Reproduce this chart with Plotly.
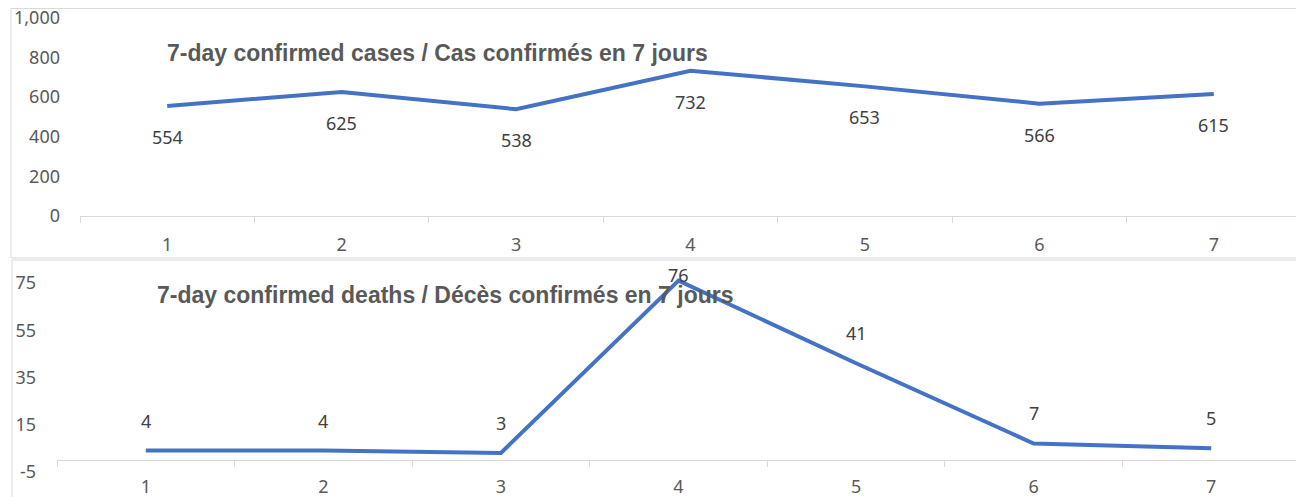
import plotly.graph_objects as go

days = ["1", "2", "3", "4", "5", "6", "7"]
cases = [554, 625, 538, 732, 653, 566, 615]
deaths = [4, 4, 3, 76, 41, 7, 5]
cases_ticks = [0, 200, 400, 600, 800, 1000]
deaths_ticks = [-5, 15, 35, 55, 75]
deaths_tick_text = ["-5", "15", "35", "55", "75"]
title_cases = "7-day confirmed cases / Cas confirmés en 7 jours"
title_deaths = "7-day confirmed deaths / Décès confirmés en 7 jours"

W, H = 1304, 497
OFF = 8  # page body margin
LINE = "#4472C4"
GRID = "#d9d9d9"
TXT = "#595959"
LBL = "#404040"
TICKFONT = dict(family="Noto Sans", size=18, color=TXT)
LBLFONT = dict(family="Noto Sans", size=18, color=LBL)


def px_x(p):
    return (p - OFF) / W


def px_y(p):
    return (H - (p - OFF)) / H


fig = go.Figure()
fig.add_trace(go.Scatter(x=days, y=cases, mode="lines", line=dict(color=LINE, width=4),
                         xaxis="x", yaxis="y", hoverinfo="skip"))
fig.add_trace(go.Scatter(x=days, y=deaths, mode="lines", line=dict(color=LINE, width=4),
                         xaxis="x2", yaxis="y2", hoverinfo="skip"))

top_rng = [0, 1000]
top_y0, top_y1 = 216, 17.5
bot_rng = [-5, 80]
bot_scale = 2.36
bot_zero = 460
bot_y0 = bot_zero - bot_rng[0] * bot_scale
bot_y1 = bot_zero - bot_rng[1] * bot_scale

axis_common = dict(type="category", showgrid=False, showline=True, linecolor=GRID, linewidth=1,
                   ticks="outside", tickson="boundaries", ticklen=6, tickcolor=GRID,
                   tickfont=TICKFONT, ticklabelstandoff=12, range=[-0.5, 6.5], zeroline=False,
                   automargin=False, ticklabeloverflow="allow")

fig.update_layout(
    width=W, height=H, margin=dict(l=0, r=0, t=0, b=0, pad=0), autosize=False,
    paper_bgcolor="white", plot_bgcolor="rgba(0,0,0,0)", showlegend=False,
    xaxis=dict(axis_common, domain=[px_x(80), px_x(1301)], anchor="y"),
    yaxis=dict(domain=[px_y(top_y0), px_y(top_y1)], range=top_rng, tickvals=cases_ticks,
               tickformat=",d", showgrid=False, zeroline=False, showline=False, ticks="",
               tickfont=TICKFONT, ticklabelstandoff=19, anchor="x", automargin=False,
               ticklabeloverflow="allow"),
    xaxis2=dict(axis_common, domain=[px_x(57), px_x(1300)], anchor="free",
                position=px_y(bot_zero), ticklabelstandoff=10),
    yaxis2=dict(domain=[px_y(bot_y0), px_y(bot_y1)], range=bot_rng, tickvals=deaths_ticks,
                ticktext=deaths_tick_text, showgrid=False, zeroline=False, showline=False,
                ticks="", tickfont=TICKFONT, ticklabelstandoff=20, anchor="x2",
                automargin=False, ticklabeloverflow="allow"),
)

fig.add_shape(type="rect", xref="paper", yref="paper", x0=px_x(11), x1=px_x(1298),
              y0=px_y(258), y1=px_y(8.5), line=dict(color=GRID, width=1), layer="below")
fig.add_shape(type="rect", xref="paper", yref="paper", x0=px_x(12), x1=px_x(1299),
              y0=px_y(530), y1=px_y(260), line=dict(color=GRID, width=1), layer="below")

fig.add_annotation(text="<b>" + title_cases + "</b>", xref="paper", yref="paper",
                   x=px_x(165), y=px_y(53), xanchor="left", yanchor="middle", showarrow=False,
                   font=dict(family="Liberation Sans", size=23, color=TXT))
fig.add_annotation(text="<b>" + title_deaths + "</b>", xref="paper", yref="paper",
                   x=px_x(155), y=px_y(295), xanchor="left", yanchor="middle", showarrow=False,
                   font=dict(family="Liberation Sans", size=23, color=TXT))

for i, v in enumerate(cases):
    fig.add_annotation(text=f"{v:,}", x=i, y=v, xref="x", yref="y", showarrow=False,
                       yshift=-31, font=LBLFONT)
for i, v in enumerate(deaths):
    shift = min(30, (bot_rng[1] - v) * bot_scale - 3.5)
    fig.add_annotation(text=f"{v}", x=i, y=v, xref="x2", yref="y2", showarrow=False,
                       yshift=shift, font=LBLFONT)

fig.write_html("out.html")
